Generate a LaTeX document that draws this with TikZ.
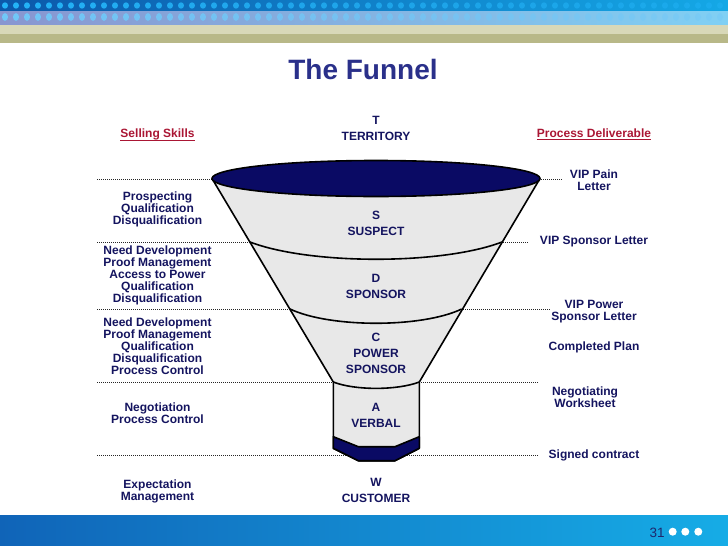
\documentclass[tikz,border=0pt]{standalone}
\usepackage{fontspec}
\setmainfont{Liberation Sans}
\definecolor{navytxt}{RGB}{20,20,95}
\definecolor{titleblue}{RGB}{42,48,138}
\definecolor{crimson}{RGB}{170,22,52}
\definecolor{funnelgray}{RGB}{232,232,232}
\definecolor{funnelnavy}{RGB}{10,10,100}
\definecolor{bandAl}{RGB}{12,88,170}
\definecolor{bandAr}{RGB}{20,168,230}
\definecolor{bandBl}{RGB}{136,150,208}
\definecolor{bandBr}{RGB}{128,208,244}
\definecolor{dotA}{RGB}{36,180,248}
\definecolor{dotB}{RGB}{112,200,248}
\definecolor{beige}{RGB}{216,216,184}
\definecolor{olive}{RGB}{184,184,136}
\definecolor{botL}{RGB}{16,100,184}
\definecolor{botR}{RGB}{22,172,230}
\definecolor{pagenum}{RGB}{30,40,110}
\newcommand{\thickul}[1]{\setbox0=\hbox{#1}\rlap{\raisebox{-2.8pt}{\rule{\wd0}{1.1pt}}}\box0}
\tikzset{
  side/.style={font=\fontsize{12}{12}\selectfont\bfseries, text=navytxt, align=center, inner sep=0pt},
  fun/.style={font=\fontsize{12}{16}\selectfont\bfseries, text=navytxt, align=center, inner sep=0pt},
  head/.style={font=\fontsize{12}{12}\selectfont\bfseries, text=crimson, inner sep=0pt},
  dotline/.style={dash pattern=on 1pt off 1pt, line width=0.9pt, black!85},
  funline/.style={line width=1.6pt, black, line join=round},
}
\begin{document}
\begin{tikzpicture}[x=1pt,y=-1pt]
\useasboundingbox (0,0) rectangle (728,546);
% top banner
\fill[left color=bandAl,right color=bandAr] (0,0) rectangle (728,11);
\fill[left color=bandBl,right color=bandBr] (0,11) rectangle (728,25);
\fill[beige] (0,25) rectangle (728,34);
\fill[olive] (0,34) rectangle (728,43);
\foreach \i in {0,...,65}{
  \pgfmathsetmacro{\op}{1-0.009*\i}
  \fill[dotA, opacity=\op] ({5+11*\i},5.5) ellipse [x radius=3, y radius=3.2];
  \fill[dotB, opacity=\op] ({5+11*\i},17) ellipse [x radius=3, y radius=3.9];
}
% bottom banner
\fill[left color=botL,right color=botR] (0,515) rectangle (728,546);
\node[font=\fontsize{13.5}{14}\selectfont, text=pagenum, inner sep=0pt] (pnum) at (657,533) {31};
\foreach \x in {672.7,685.3,698.3}
  \fill[white] (\x,531.7) circle [radius=4];
% dotted lines
\draw[dotline] (97,179) -- (563,179);
\draw[dotline] (97,242) -- (528,242);
\draw[dotline] (97,309) -- (550,309);
\draw[dotline] (97,382) -- (538,382);
\draw[dotline] (97,455) -- (538,455);
% funnel
\draw[funline, fill=funnelgray] (212,178.5) -- (333.3,382) -- (333.3,448.3) -- (358.3,460.7) -- (395,460.7) -- (419.3,448.3) -- (419.3,382) -- (540,178.5) -- cycle;
\draw[funline, fill=funnelnavy] (333.3,436.7) -- (358.3,446.7) -- (395,446.7) -- (419.3,436.7) -- (419.3,448.3) -- (395,460.7) -- (358.3,460.7) -- (333.3,448.3) -- cycle;
\draw[funline] (250,242) .. controls (310,265) and (442,265) .. (502,242);
\draw[funline] (290,309) .. controls (330,328) and (422,328) .. (461.7,309);
\draw[funline] (333.3,382) .. controls (355,390.5) and (397,390.5) .. (419.3,382);
\draw[funline, fill=funnelnavy] (376,178.5) ellipse [x radius=164, y radius=18];
% title
\node[font=\fontsize{28}{30}\selectfont\bfseries, text=titleblue, inner sep=0pt] (title) at (363,69) {The Funnel};
% funnel labels
\node[fun] (t) at (376,128.7) {T\\TERRITORY};
\node[fun] (s) at (376,223.7) {S\\SUSPECT};
\node[fun] (d) at (376,286.2) {D\\SPONSOR};
\node[fun] (c) at (376,353.5) {C\\POWER\\SPONSOR};
\node[fun] (a) at (376,415) {A\\VERBAL};
\node[fun] (w) at (376,490.8) {W\\CUSTOMER};
% left labels
\node[head] (ss) at (157.5,135) {\thickul{Selling Skills}};
\node[side] (l1) at (157.5,209) {Prospecting\\Qualification\\Disqualification};
\node[side] (l2) at (157.5,275) {Need Development\\Proof Management\\Access to Power\\Qualification\\Disqualification};
\node[side] (l3) at (157.5,346.3) {Need Development\\Proof Management\\Qualification\\Disqualification\\Process Control};
\node[side] (l4) at (157.5,413.3) {Negotiation\\Process Control};
\node[side] (l5) at (157.5,491) {Expectation\\Management};
% right labels
\node[head] (pd) at (594,134.5) {\thickul{Process Deliverable}};
\node[side] (r1) at (594,180) {VIP Pain\\Letter};
\node[side] (r2) at (594,242) {VIP Sponsor Letter};
\node[side] (r3) at (594,312) {VIP Power\\Sponsor Letter};
\node[side] (r4) at (594,347) {Completed Plan};
\node[side] (r5) at (585,397.5) {Negotiating\\Worksheet};
\node[side] (r6) at (594,455.5) {Signed contract};
\end{tikzpicture}
\end{document}
